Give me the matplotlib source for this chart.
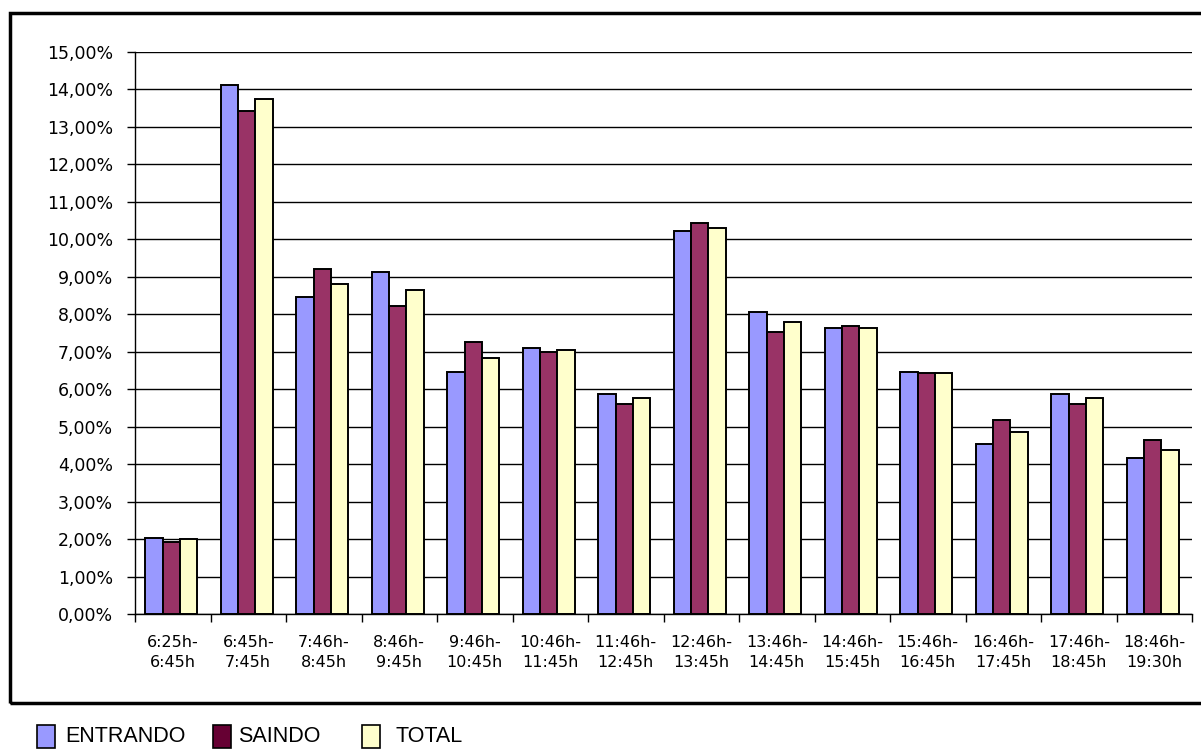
import numpy as np
import matplotlib.pyplot as plt
from matplotlib.patches import Rectangle
from matplotlib.ticker import FuncFormatter

plt.rcParams['font.family'] = ['DejaVu Sans']

# faixas horarias
periods = ["6:25h-\n6:45h", "6:45h-\n7:45h", "7:46h-\n8:45h", "8:46h-\n9:45h",
           "9:46h-\n10:45h", "10:46h-\n11:45h", "11:46h-\n12:45h", "12:46h-\n13:45h",
           "13:46h-\n14:45h", "14:46h-\n15:45h", "15:46h-\n16:45h", "16:46h-\n17:45h",
           "17:46h-\n18:45h", "18:46h-\n19:30h"]

entrando = [2.04, 14.12, 8.45, 9.12, 6.47, 7.10, 5.88, 10.21, 8.07, 7.64, 6.47, 4.55, 5.88, 4.17]
saindo = [1.93, 13.42, 9.20, 8.22, 7.25, 7.00, 5.60, 10.43, 7.53, 7.70, 6.42, 5.18, 5.60, 4.65]
total = [2.00, 13.74, 8.80, 8.65, 6.83, 7.05, 5.77, 10.31, 7.80, 7.64, 6.42, 4.87, 5.77, 4.37]

series_names = ["ENTRANDO", "SAINDO", "TOTAL"]
colors = ["#9999FF", "#993366", "#FFFFCC"]
legend_colors = ["#9999FF", "#660033", "#FFFFCC"]

W, H = 1201, 749
fig = plt.figure(figsize=(12.01, 7.49), dpi=100)

# outer chart frame
fig.patches.append(Rectangle((10 / W, 1 - 703 / H), 1.2, (703 - 13) / H,
                             transform=fig.transFigure, fill=False,
                             edgecolor="black", linewidth=2.5, zorder=0))

ax = fig.add_axes([135 / W, 1 - 614 / H, (1192 - 135) / W, (614 - 52) / H])

x = np.arange(len(periods))
w = 0.23
for i, (vals, c) in enumerate(zip([entrando, saindo, total], colors)):
    ax.bar(x + (i - 1) * w - 0.02, vals, width=w, color=c, edgecolor="black",
           linewidth=1.4, zorder=3)

ax.set_xlim(-0.5, len(periods) - 0.5)
ax.set_ylim(0, 15)
ax.set_yticks(np.arange(0, 16, 1))
ax.yaxis.set_major_formatter(FuncFormatter(lambda v, p: f"{v:.2f}".replace(".", ",") + "%"))
ax.grid(axis="y", color="black", linewidth=1.0, zorder=0)

ax.set_xticks(x)
ax.set_xticklabels(periods, fontsize=11.5, linespacing=1.45)
ax.set_xticks(np.arange(-0.5, len(periods)), minor=True)
ax.tick_params(axis="x", which="major", length=0, pad=15)
ax.tick_params(axis="x", which="minor", length=6, width=1)
ax.tick_params(axis="y", length=6, width=1, labelsize=12.5, pad=10)

for s in ["top", "right"]:
    ax.spines[s].set_visible(False)
ax.spines["left"].set_linewidth(1)
ax.spines["bottom"].set_linewidth(1)

# legend below the frame, drawn by hand (Excel style spacing)
box_x = [37, 213, 362]
text_x = [65, 238, 395]
for bx, tx, name, c in zip(box_x, text_x, series_names, legend_colors):
    fig.patches.append(Rectangle((bx / W, 1 - 748 / H), 18 / W, 23 / H,
                                 transform=fig.transFigure, facecolor=c,
                                 edgecolor="black", linewidth=1.2))
    fig.text(tx / W, 1 - 737 / H, name, fontsize=15.5, family='Liberation Sans',
             ha="left", va="center")

fig.savefig("out.png", dpi=100)
